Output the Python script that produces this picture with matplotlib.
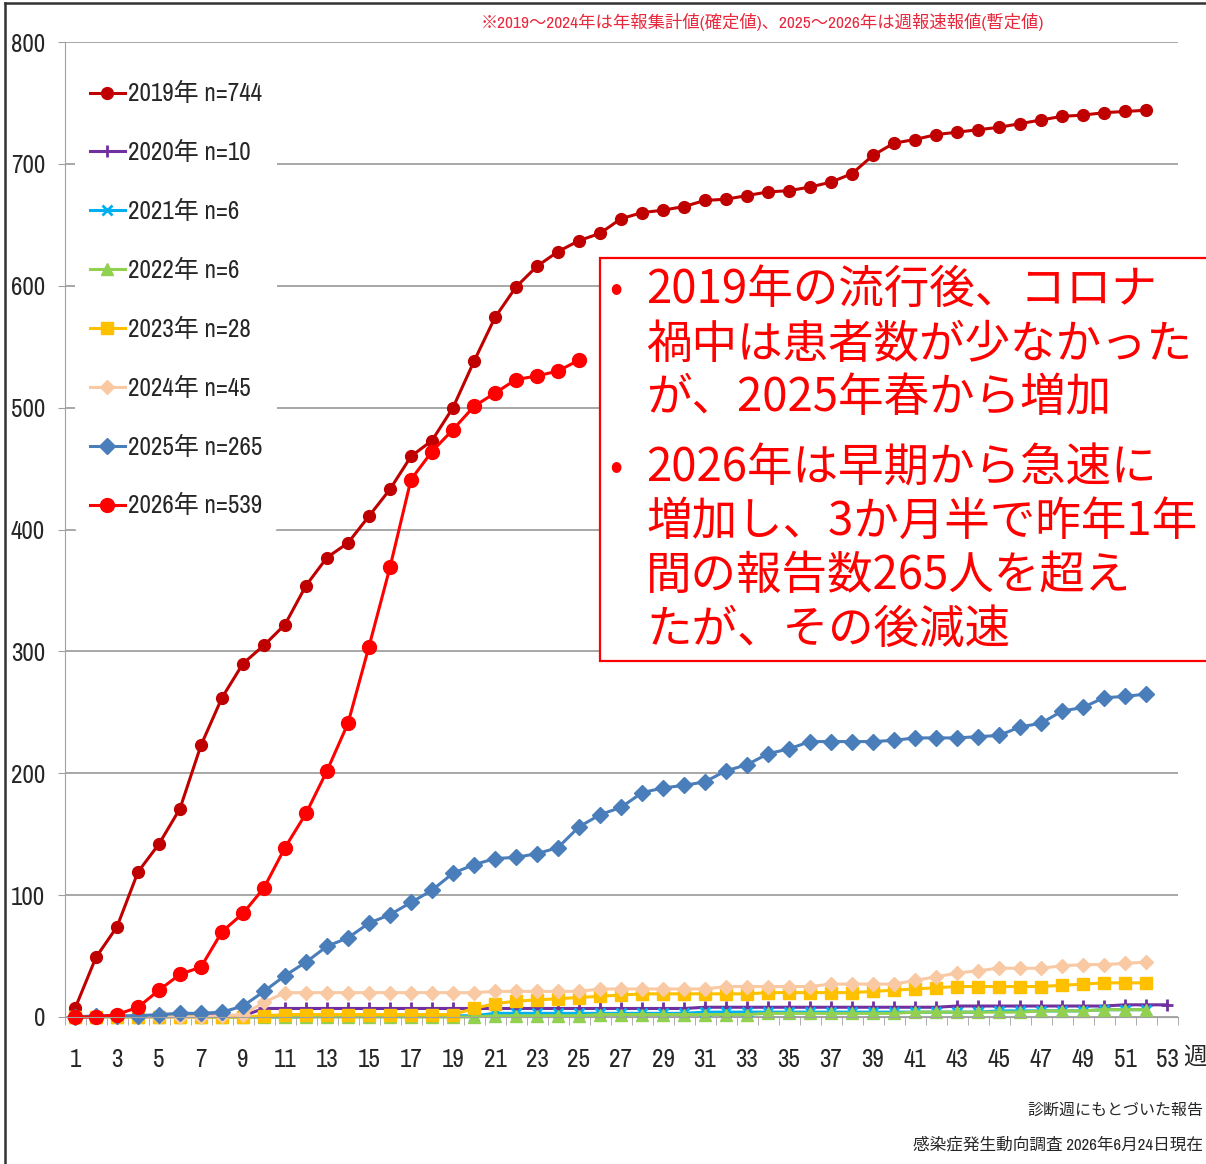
import matplotlib
matplotlib.use('Agg')
import matplotlib.pyplot as plt
from matplotlib import font_manager
from matplotlib.patches import Rectangle
from matplotlib.lines import Line2D
import numpy as np

# 週ごとの累積報告数
weeks_52 = list(range(1, 53))
weeks_53 = list(range(1, 54))
weeks_2026 = list(range(1, 26))

y2019 = [7, 49, 74, 119, 142, 171, 223, 262, 290, 305, 322, 354, 377, 389, 411, 433,
         460, 473, 500, 538, 574, 599, 616, 628, 637, 643, 655, 660, 662, 665, 670, 671,
         674, 677, 678, 681, 685, 692, 707, 717, 720, 724, 726, 728, 730, 733, 736, 739,
         740, 742, 743, 744]
y2020 = [0, 0, 0, 1, 1, 1, 1, 1, 1, 7, 7, 7, 7, 7, 7, 7, 7, 7, 7, 7, 7, 7, 7, 7, 7, 7,
         7, 7, 7, 7, 8, 8, 8, 8, 8, 8, 8, 8, 8, 8, 8, 8, 9, 9, 9, 9, 9, 9, 9, 9, 10, 10, 10]
y2021 = [0, 0, 0, 0, 0, 0, 0, 0, 0, 0, 0, 0, 1, 1, 1, 1, 1, 1, 1, 1, 3, 3, 3, 3, 3, 3,
         3, 3, 3, 3, 4, 4, 4, 4, 4, 4, 4, 4, 4, 4, 4, 4, 4, 4, 5, 5, 5, 5, 5, 6, 6, 6]
y2022 = [0, 0, 0, 0, 0, 0, 0, 0, 0, 0, 0, 0, 0, 0, 0, 0, 0, 0, 0, 0, 1, 1, 1, 1, 1, 2,
         2, 2, 2, 2, 2, 2, 2, 3, 3, 3, 3, 3, 3, 3, 4, 4, 4, 4, 4, 4, 5, 5, 5, 6, 6, 6]
y2023 = [0, 0, 0, 0, 0, 0, 0, 0, 0, 1, 2, 2, 2, 2, 2, 2, 2, 2, 2, 7, 11, 13, 14, 15, 16,
         17, 18, 19, 19, 19, 19, 19, 19, 20, 20, 20, 20, 20, 21, 22, 23, 24, 25, 25, 25,
         25, 25, 26, 27, 28, 28, 28]
y2024 = [0, 0, 0, 0, 0, 0, 0, 1, 2, 12, 20, 20, 20, 20, 20, 20, 20, 20, 20, 20, 21, 21,
         21, 21, 21, 23, 23, 23, 23, 23, 23, 25, 25, 25, 25, 25, 27, 27, 27, 27, 30, 33,
         36, 38, 40, 40, 40, 42, 43, 43, 44, 45]
y2025 = [0, 1, 1, 1, 2, 3, 3, 4, 9, 21, 34, 45, 58, 65, 77, 84, 94, 104, 118, 125, 130,
         131, 134, 139, 156, 166, 172, 184, 188, 190, 193, 202, 207, 216, 220, 226, 226,
         226, 226, 227, 229, 229, 229, 230, 231, 238, 241, 251, 254, 262, 263, 265]
y2026 = [0, 0, 2, 8, 22, 35, 41, 70, 85, 106, 139, 167, 202, 241, 304, 369, 441, 464,
         482, 501, 512, 523, 526, 530, 539]

labels = ['2019年 n=744', '2020年 n=10', '2021年 n=6', '2022年 n=6',
          '2023年 n=28', '2024年 n=45', '2025年 n=265', '2026年 n=539']

# 細めのフォントを探す（無ければ Liberation Sans を小さめで）
jp = 'Noto Sans CJK JP'
flist = font_manager.fontManager.ttflist
narrow = [f.name for f in flist if 'Narrow' in f.name or 'Condensed' in f.name]
dv_cond = [f for f in flist if f.name == 'DejaVu Sans' and 'condensed' in str(f.stretch)]
if narrow:
    base, k = narrow[0], 1.0
    plt.rcParams['font.family'] = [base, jp]
elif dv_cond:
    base, k = 'DejaVu Sans', 0.85
    plt.rcParams['font.family'] = [base, jp]
    plt.rcParams['font.stretch'] = 'condensed'
else:
    base, k = 'Liberation Sans', 0.84
    plt.rcParams['font.family'] = [base, jp]

W, H = 1206, 1164
fig = plt.figure(figsize=(W / 100, H / 100), dpi=100)
ax = fig.add_axes([64.5 / W, 1 - 1017 / H, 1113 / W, 975 / H])

grey = '#A0A0A0'
txt = '#262626'

ax.plot(weeks_52, y2019, color='#C00000', lw=2.2, marker='o', ms=8.5, label=labels[0], clip_on=False)
ax.plot(weeks_53, y2020, color='#7030A0', lw=2.2, marker='+', ms=9, mew=2, label=labels[1], clip_on=False)
ax.plot(weeks_52, y2021, color='#00B0F0', lw=2.2, marker='x', ms=7, mew=2, label=labels[2], clip_on=False)
ax.plot(weeks_52, y2022, color='#92D050', lw=2.2, marker='^', ms=9, label=labels[3], clip_on=False)
ax.plot(weeks_52, y2023, color='#FFC000', lw=2.2, marker='s', ms=8.5, label=labels[4], clip_on=False)
ax.plot(weeks_52, y2024, color='#F9C9A4', lw=2.2, marker='D', ms=7.5, label=labels[5], clip_on=False)
ax.plot(weeks_52, y2025, color='#4A7EBB', lw=2.2, marker='D', ms=8, label=labels[6], clip_on=False)
ax.plot(weeks_2026, y2026, color='#FF0000', lw=2.2, marker='o', ms=10, label=labels[7], clip_on=False)

ax.set_xlim(0.5, 53.5)
ax.set_ylim(0, 800)
ax.set_yticks(range(0, 801, 100))
ax.set_xticks(range(1, 54, 2))
ax.set_xticks(np.arange(0.5, 54, 1), minor=True)
ax.grid(axis='y', color=grey, lw=1.3)
ax.set_axisbelow(True)
for s in ['top', 'right']:
    ax.spines[s].set_visible(False)
ax.spines['left'].set_color(grey)
ax.spines['bottom'].set_color(grey)
ax.tick_params(axis='y', length=5, color=grey, labelsize=18 * k, labelcolor=txt, pad=9)
ax.tick_params(axis='x', which='major', length=0, labelsize=18 * k, labelcolor=txt, pad=22)
ax.tick_params(axis='x', which='minor', length=6, color=grey)

fig.text(1195 / W, 1 - 1057 / H, '週', fontsize=17, color=txt, ha='center', va='center')

leg = ax.legend(loc='upper left', bbox_to_anchor=(-0.002, 0.987), fontsize=18 * k,
                frameon=True, facecolor='white', edgecolor='none', framealpha=1,
                handlelength=1.4, handletextpad=0.12, labelspacing=1.43 / k, borderpad=0.6)
for t in leg.get_texts():
    t.set_color(txt)

# 注記
fig.text(762 / W, 1 - 22 / H,
         '※2019～2024年は年報集計値(確定値)、2025～2026年は週報速報値(暫定値)',
         fontsize=12.5, color='#E8283C', ha='center', va='center')
fig.text(1203 / W, 1 - 1110 / H, '診断週にもとづいた報告', fontsize=11.5, color=txt,
         ha='right', va='center')
fig.text(1203 / W, 1 - 1145 / H, '感染症発生動向調査 2026年6月24日現在', fontsize=12,
         color=txt, ha='right', va='center')

# 赤枠のコメント
fig.add_artist(Rectangle((600 / W, 1 - 661 / H), 0.6, (661 - 258) / H,
                         transform=fig.transFigure, facecolor='white',
                         edgecolor='#FF0000', lw=1.6, zorder=5))
box_lines = ['2019年の流行後、コロナ', '禍中は患者数が少なかった', 'が、2025年春から増加',
             '2026年は早期から急速に', '増加し、3か月半で昨年1年', '間の報告数265人を超え',
             'たが、その後減速']
box_y = [290, 345, 398, 468, 522, 576, 630]
for line, yy in zip(box_lines, box_y):
    fig.text(646 / W, 1 - yy / H, line, fontsize=32.8, color='#FF0000', family=jp,
             ha='left', va='center', zorder=6)
for yy in [box_y[0], box_y[3]]:
    fig.text(616 / W, 1 - yy / H, '•', fontsize=28, color='#FF0000', family=jp,
             ha='center', va='center', zorder=6)

# 外枠
fig.add_artist(Line2D([5 / W, 5 / W], [0, 1 - 3 / H], transform=fig.transFigure,
                      color='#333333', lw=1.8))
fig.add_artist(Line2D([5 / W, 1], [1 - 3 / H, 1 - 3 / H], transform=fig.transFigure,
                      color='#333333', lw=1.8))

fig.savefig('out.png', dpi=100, facecolor='white')
